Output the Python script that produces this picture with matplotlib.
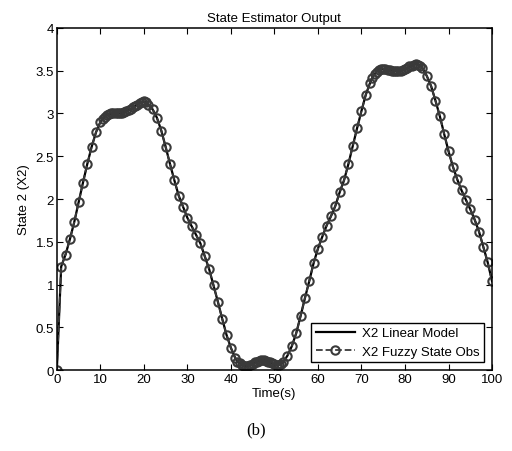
import matplotlib.pyplot as plt
import numpy as np

# time samples (s) -- solver steps are denser on the flat parts
t = [0, 1, 2, 3, 4, 5, 6, 7, 8, 9, 10,
     10.5, 11, 11.5, 12, 12.5, 13, 13.5, 14, 14.5, 15, 15.5, 16, 16.5, 17,
     17.5, 18, 18.5, 19, 19.5, 20, 20.5, 21,
     22, 23, 24, 25, 26, 27, 28, 29, 30, 31, 32, 33, 34, 35, 36, 37, 38,
     39, 40, 41,
     41.5, 42, 42.5, 43, 43.5, 44, 44.5, 45, 45.5, 46, 46.5, 47, 47.5, 48,
     48.5, 49, 49.5, 50, 50.5, 51, 51.5, 52,
     53, 54, 55, 56, 57, 58, 59, 60, 61, 62, 63, 64, 65, 66, 67, 68, 69,
     70, 71, 72,
     72.5, 73, 73.5, 74, 74.5, 75, 75.5, 76, 76.5, 77, 77.5, 78, 78.5, 79,
     79.5, 80, 80.5, 81, 81.5, 82, 82.5, 83, 83.5, 84,
     85, 86, 87, 88, 89, 90, 91, 92, 93, 94, 95, 96, 97, 98, 99, 100]

x2 = [0, 1.21, 1.35, 1.53, 1.73, 1.96, 2.19, 2.41, 2.61, 2.78, 2.90,
      2.94, 2.96, 2.98, 2.99, 3.00, 3.00, 3.00, 3.00, 3.00, 3.01, 3.02, 3.03,
      3.04, 3.05, 3.07, 3.09, 3.10, 3.12, 3.13, 3.14, 3.13, 3.10,
      3.05, 2.95, 2.80, 2.61, 2.41, 2.22, 2.04, 1.91, 1.78, 1.68, 1.58, 1.48,
      1.33, 1.18, 0.99, 0.80, 0.60, 0.41, 0.26, 0.14,
      0.10, 0.08, 0.06, 0.05, 0.05, 0.05, 0.06, 0.07, 0.09, 0.10, 0.11, 0.12,
      0.12, 0.11, 0.10, 0.09, 0.08, 0.07, 0.06, 0.06, 0.07, 0.09,
      0.17, 0.28, 0.43, 0.63, 0.84, 1.04, 1.25, 1.42, 1.56, 1.69, 1.80, 1.92,
      2.08, 2.22, 2.41, 2.62, 2.83, 3.03, 3.22, 3.36,
      3.42, 3.46, 3.49, 3.51, 3.52, 3.52, 3.52, 3.51, 3.51, 3.50, 3.50, 3.50,
      3.50, 3.50, 3.51, 3.52, 3.53, 3.55, 3.56, 3.57, 3.58, 3.57, 3.56, 3.53,
      3.44, 3.32, 3.15, 2.97, 2.76, 2.56, 2.38, 2.23, 2.10, 1.99, 1.88, 1.76,
      1.62, 1.44, 1.26, 1.04]

x_ticks = np.arange(0, 101, 10)
y_ticks = [0, 0.5, 1, 1.5, 2, 2.5, 3, 3.5, 4]
y_tick_labels = ['0', '0.5', '1', '1.5', '2', '2.5', '3', '3.5', '4']

plt.rcParams['font.family'] = ['Liberation Sans', 'DejaVu Sans']
fs = 9.5

fig = plt.figure(figsize=(5.12, 4.52), dpi=100)
ax = fig.add_axes([0.111, 0.179, 0.850, 0.757])

ax.plot(t, x2, '-', color='black', lw=1.6, label='X2 Linear Model')
ax.plot(t, x2, '--', color='#3a3a3a', lw=1.3, marker='o', ms=6,
        mfc='none', mec='#3a3a3a', mew=1.5, label='X2 Fuzzy State Obs')

ax.set_xlim(0, 100)
ax.set_ylim(0, 4)
ax.set_xticks(x_ticks)
ax.set_yticks(y_ticks)
ax.set_yticklabels(y_tick_labels)
ax.tick_params(direction='in', top=True, right=True, length=4, width=0.8,
               pad=2, labelsize=fs)
for sp in ax.spines.values():
    sp.set_linewidth(1.1)

ax.set_title('State Estimator Output', fontsize=fs, pad=5)
ax.set_xlabel('Time(s)', fontsize=fs, labelpad=1.5)
ax.set_ylabel('State 2 (X2)', fontsize=fs, labelpad=4)

leg = ax.legend(loc='lower right', fontsize=fs, fancybox=False,
                edgecolor='black', framealpha=1, borderpad=0.35,
                handlelength=3.0, handletextpad=0.5, labelspacing=0.45,
                borderaxespad=0.6)
leg.get_frame().set_linewidth(1.0)

fig.text(0.5, 0.048, '(b)', ha='center', va='center',
         family=['Liberation Serif', 'DejaVu Serif'], fontsize=12)

plt.savefig('out.png', dpi=100)
